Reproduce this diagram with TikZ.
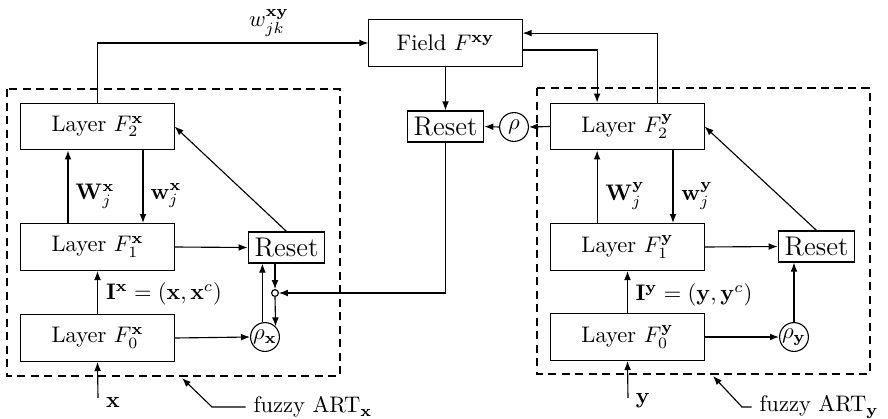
\documentclass[tikz,border=0pt]{standalone}
\usetikzlibrary{arrows.meta}
\begin{document}
\begin{tikzpicture}[x=0.444pt,y=-0.444pt,>={Latex[length=4pt,width=3pt]},line width=0.5pt,
  layer/.style={draw,minimum width=68pt,minimum height=20.8pt,inner sep=0pt},
  resetbox/.style={draw,font=\large,minimum width=34pt,minimum height=13.8pt,inner sep=0pt},
  gain/.style={draw,circle,minimum size=12.8pt,inner sep=0pt},
  frame/.style={dash pattern=on 3.6pt off 2.4pt}]
\useasboundingbox (0,0) rectangle (888,418);
\node[layer] (field) at (445.5,43) {Field $F^{\mathbf{xy}}$};
\node[resetbox] (resetm) at (445.5,126.5) {Reset};
\node[gain] (rho) at (514,127) {$\rho$};
\node[layer] (f2x) at (97.5,126.5) {Layer $F_2^{\mathbf{x}}$};
\node[layer] (f1x) at (97.5,247) {Layer $F_1^{\mathbf{x}}$};
\node[layer] (f0x) at (97.5,338) {Layer $F_0^{\mathbf{x}}$};
\node[resetbox] (resetx) at (286.5,247.5) {Reset};
\node[gain] (rhox) at (265,337) {$\rho_{\mathbf{x}}$};
\node[draw,circle,minimum size=3pt,inner sep=0pt] (dot) at (275,293) {};
\node[layer] (f2y) at (627.5,126.5) {Layer $F_2^{\mathbf{y}}$};
\node[layer] (f1y) at (627.5,247) {Layer $F_1^{\mathbf{y}}$};
\node[layer] (f0y) at (627.5,337) {Layer $F_0^{\mathbf{y}}$};
\node[resetbox] (resety) at (816.5,246.5) {Reset};
\node[gain] (rhoy) at (794,337) {$\rho_{\mathbf{y}}$};
\draw[frame] (7,89) rectangle (340,376);
\draw[frame] (537,88) rectangle (870,374);
\node (wxy) at (269,23) {$w^{\mathbf{xy}}_{jk}$};
\node (Wx) at (95,196) {$\mathbf{W}^{\mathbf{x}}_j$};
\node (wx) at (166,196) {$\mathbf{w}^{\mathbf{x}}_j$};
\node (Ix) at (164,294) {$\mathbf{I}^{\mathbf{x}}=(\mathbf{x},\mathbf{x}^c)$};
\node (Wy) at (625,196) {$\mathbf{W}^{\mathbf{y}}_j$};
\node (wy) at (697,196) {$\mathbf{w}^{\mathbf{y}}_j$};
\node (Iy) at (694,295) {$\mathbf{I}^{\mathbf{y}}=(\mathbf{y},\mathbf{y}^c)$};
\node (xlab) at (113,402) {$\mathbf{x}$};
\node (ylab) at (643,401) {$\mathbf{y}$};
\node (artx) at (313,407) {fuzzy ART$_{\mathbf{x}}$};
\node (arty) at (819,407) {fuzzy ART$_{\mathbf{y}}$};
\coordinate (xsrc) at (98,398);
\coordinate (ysrc) at (628,398);
\draw[->] (f2x.north) |- (field.west);
\draw[->] (field.south) -- (resetm.north);
\draw[->] ([yshift=-3.1pt]field.east) -| ([xshift=-13.5pt]f2y.north);
\draw[->] ([xshift=13.5pt]f2y.north) |- ([yshift=4.4pt]field.east);
\draw[->] (f2y.west) -- (rho.east);
\draw[->] (rho.west) -- (resetm.east);
\draw[->] (resetm.south) |- (dot.east);
\draw[->] ([xshift=-13.1pt]f1x.north) -- ([xshift=-13.1pt]f2x.south);
\draw[->] ([xshift=20.2pt]f2x.south) -- ([xshift=20.2pt]f1x.north);
\draw[->] (f0x.north) -- (f1x.south);
\draw[->] (f1x.east) -- (resetx.west);
\draw[->] (f0x.east) -- (rhox.west);
\draw[->] (rhox.100) -- (rhox.100 |- resetx.south);
\draw[->] (dot |- resetx.south) -- (dot.north);
\draw[->] (dot.south) -- (rhox.north east);
\draw[->] (resetx.north) -- (f2x.east);
\draw[->] (xsrc) -- (f0x.south);
\draw[->] ([xshift=-13.5pt]f1y.north) -- ([xshift=-13.5pt]f2y.south);
\draw[->] ([xshift=20.2pt]f2y.south) -- ([xshift=20.2pt]f1y.north);
\draw[->] (f0y.north) -- (f1y.south);
\draw[->] (f1y.east) -- (resety.west);
\draw[->] (f0y.east) -- (rhoy.west);
\draw[->] (rhoy.north) -- (rhoy.north |- resety.south);
\draw[->] (resety.north) -- (f2y.east);
\draw[->] (ysrc) -- (f0y.south);
\draw[->] (artx.west) -- (212,407) -- (182,378);
\draw[->] (arty.west) -- (742,407) -- (713,376);
\end{tikzpicture}
\end{document}
